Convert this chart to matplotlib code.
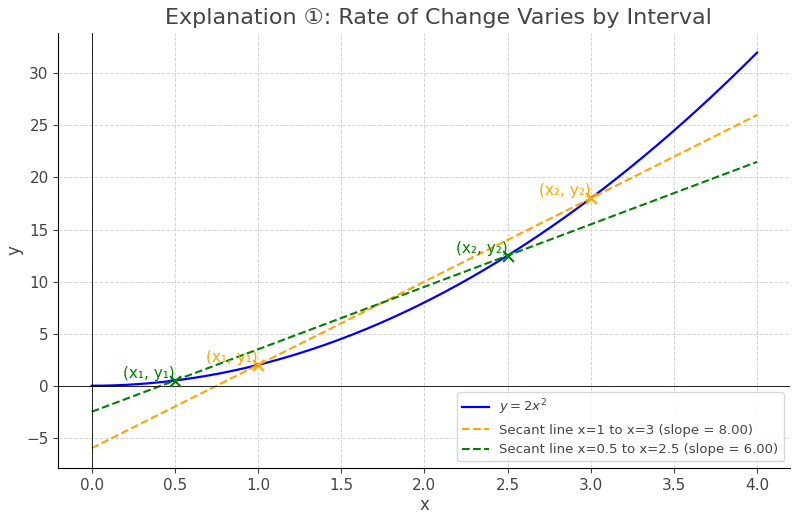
import matplotlib.pyplot as plt
import numpy as np

plt.rcParams['font.family'] = ['DejaVu Sans', 'Noto Sans CJK JP']
plt.rcParams['text.color'] = '#444444'
plt.rcParams['axes.labelcolor'] = '#444444'
plt.rcParams['xtick.color'] = '#444444'
plt.rcParams['ytick.color'] = '#444444'

# curve y = 2x^2
x = np.linspace(0, 4, 400)
y = 2 * x**2

# secant endpoints
sec1_x = [1, 3]
sec2_x = [0.5, 2.5]
sec1_y = [2 * v**2 for v in sec1_x]
sec2_y = [2 * v**2 for v in sec2_x]

slope1 = (sec1_y[1] - sec1_y[0]) / (sec1_x[1] - sec1_x[0])
slope2 = (sec2_y[1] - sec2_y[0]) / (sec2_x[1] - sec2_x[0])
line1 = slope1 * (x - sec1_x[0]) + sec1_y[0]
line2 = slope2 * (x - sec2_x[0]) + sec2_y[0]

fig, ax = plt.subplots(figsize=(8, 5.2), dpi=100)
ax.plot(x, y, color='blue', lw=1.6, label=r'$y = 2x^2$')
ax.plot(x, line1, '--', color='orange', lw=1.5,
        label=f'Secant line x=1 to x=3 (slope = {slope1:.2f})')
ax.plot(x, line2, '--', color='green', lw=1.5,
        label=f'Secant line x=0.5 to x=2.5 (slope = {slope2:.2f})')

ax.scatter(sec1_x, sec1_y, color='orange', marker='x', s=60, zorder=5)
ax.scatter(sec2_x, sec2_y, color='green', marker='x', s=60, zorder=5)

names = ['(x₁, y₁)', '(x₂, y₂)']
for px, py, t in zip(sec1_x, sec1_y, names):
    ax.text(px, py, t, color='orange', fontsize=11, ha='right', va='bottom')
for px, py, t in zip(sec2_x, sec2_y, names):
    ax.text(px, py, t, color='green', fontsize=11, ha='right', va='bottom')

ax.axhline(0, color='black', lw=0.6)
ax.axvline(0, color='black', lw=0.6)

ax.set_title('Explanation ①: Rate of Change Varies by Interval', fontsize=16, x=0.519)
ax.set_xlabel('x', fontsize=12, labelpad=2)
ax.set_ylabel('y', fontsize=12, labelpad=2)
ax.tick_params(labelsize=11)
ax.grid(True, linestyle='--', color='#d5d5d5', lw=0.7)
ax.spines['top'].set_visible(False)
ax.spines['right'].set_visible(False)
ax.legend(loc='lower right', fontsize=9.5)

fig.subplots_adjust(left=0.073, right=0.988, top=0.937, bottom=0.1)
fig.savefig('out.png')
